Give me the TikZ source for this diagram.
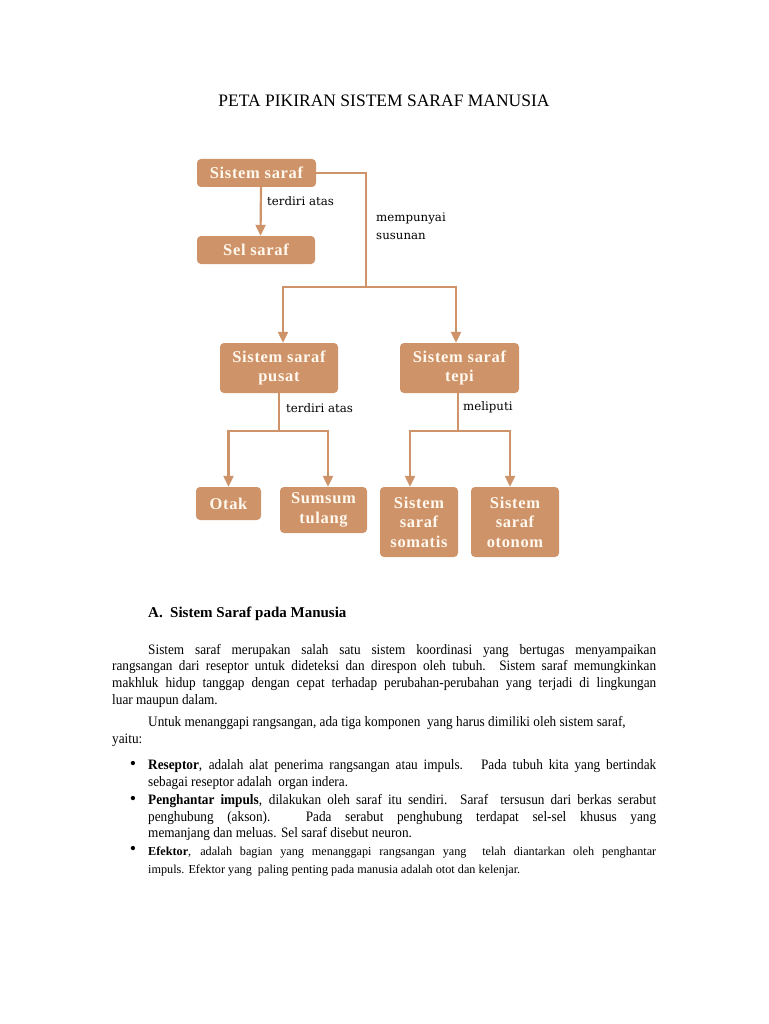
\documentclass[tikz,border=0pt]{standalone}
\usepackage{fontspec}
\setmainfont{Liberation Serif}
\newfontfamily\bodyfont{Liberation Serif}[FakeStretch=0.92]
\newfontfamily\boxfont{Liberation Serif}[LetterSpace=4]
\newfontfamily\lblfont{DejaVu Serif}
\usetikzlibrary{arrows.meta}
\definecolor{tan}{RGB}{206,147,104}
\definecolor{boxtext}{RGB}{255,248,238}
\tikzset{
  box/.style={fill=tan, rounded corners=4pt, align=center, text=boxtext,
    font=\boxfont\bfseries\fontsize{16.5}{19.5}\selectfont, inner sep=0pt},
  link/.style={draw=tan, line width=2.2pt},
  arr/.style={link, -{Triangle[length=11pt,width=10pt]}},
  lbl/.style={font=\lblfont\fontsize{11.8}{18}\selectfont, anchor=west, align=left, inner sep=0pt},
  body/.style={font=\bodyfont\fontsize{14.4}{16}\selectfont, anchor=base west, inner sep=0pt},
  bodysm/.style={font=\fontsize{12.2}{16}\selectfont, anchor=base west, inner sep=0pt},
  bullet/.style={font=\fontsize{18}{18}\selectfont, anchor=center, inner sep=0pt},
}
\begin{document}
\begin{tikzpicture}[x=1pt,y=-1pt]
\useasboundingbox[fill=white] (0,0) rectangle (768,1024);
% title
\node[font=\fontsize{17.5}{20}\selectfont, anchor=base] (title) at (384,107) {PETA PIKIRAN SISTEM SARAF MANUSIA};
% boxes
\node[box, minimum width=119pt, minimum height=28pt] (ss) at (256.5,173) {Sistem saraf};
\node[box, minimum width=118pt, minimum height=28pt] (sel) at (256,250) {Sel saraf};
\node[box, minimum width=118pt, minimum height=50pt] (pusat) at (279,368) {Sistem saraf\\pusat};
\node[box, minimum width=119pt, minimum height=50pt] (tepi) at (459.5,368) {Sistem saraf\\tepi};
\node[box, minimum width=65pt, minimum height=33pt] (otak) at (228.5,503.5) {Otak};
\node[box, minimum width=87pt, minimum height=46pt] (sumsum) at (323.5,510) {Sumsum\\tulang};
\node[box, minimum width=78pt, minimum height=70pt] (somatis) at (419,522) {Sistem\\saraf\\somatis};
\node[box, minimum width=88pt, minimum height=70pt] (otonom) at (515,522) {Sistem\\saraf\\otonom};
% junctions
\coordinate (j1) at (366,287);
\coordinate (j2) at (279,431);
\coordinate (j3) at (458,431);
% connectors
\draw[arr] ([xshift=4.5pt]ss.south) -- ([xshift=4.5pt]sel.north);
\draw[link] (ss.east) -| (j1);
\draw[arr] (j1) -| ([xshift=4pt]pusat.north);
\draw[arr] (j1) -| ([xshift=-3.5pt]tepi.north);
\draw[link] (pusat.south) -- (j2);
\draw[arr] (j2) -| (otak.north);
\draw[arr] (j2) -| ([xshift=4.5pt]sumsum.north);
\draw[link] ([xshift=-1.5pt]tepi.south) -- (j3);
\draw[arr] (j3) -| ([xshift=-9pt]somatis.north);
\draw[arr] (j3) -| ([xshift=-5pt]otonom.north);
% labels
\node[lbl] (l1) at (267,201) {terdiri atas};
\node[lbl] (l2) at (376,226) {mempunyai\\susunan};
\node[lbl] (l3) at (286,408) {terdiri atas};
\node[lbl] (l4) at (463,407) {meliputi};
% heading
\node[anchor=base west, inner sep=0pt, font=\bfseries\fontsize{15}{16}\selectfont] (ha) at (148,617) {A.};
\node[anchor=base west, inner sep=0pt, font=\bfseries\fontsize{15}{16}\selectfont] (hb) at (170,617) {Sistem Saraf pada Manusia};
% paragraph 1
\node[body] (p1) at (148,654) {\makebox[508pt][s]{Sistem saraf merupakan salah satu sistem koordinasi yang bertugas menyampaikan}};
\node[body] (p2) at (112,670) {\makebox[544pt][s]{rangsangan dari reseptor untuk dideteksi dan  direspon oleh tubuh. Sistem saraf memungkinkan}};
\node[body] (p3) at (112,687) {\makebox[544pt][s]{makhluk hidup tanggap dengan cepat terhadap perubahan-perubahan yang terjadi di lingkungan}};
\node[body] (p4) at (112,704) {luar maupun dalam.};
% paragraph 2
\node[body] (q1) at (148,726) {Untuk menanggapi rangsangan, ada tiga komponen \ yang harus dimiliki oleh sistem saraf,};
\node[body] (q2) at (112,743) {yaitu:};
% bullets
\node[bullet] (b1) at (133,765) {•};
\node[body] (r1) at (148,769) {\makebox[508pt][s]{\textbf{Reseptor}, adalah alat penerima rangsangan atau impuls. \ Pada tubuh kita yang bertindak}};
\node[body] (r2) at (148,786) {sebagai reseptor adalah \ organ indera.};
\node[bullet] (b2) at (133,800) {•};
\node[body] (s1) at (148,804) {\makebox[508pt][s]{\textbf{Penghantar impuls}, dilakukan oleh saraf itu sendiri. Saraf \ tersusun dari berkas serabut}};
\node[body] (s2) at (148,821) {\makebox[508pt][s]{penghubung (akson). Pada serabut penghubung terdapat sel-sel khusus yang}};
\node[body] (s3) at (148,837) {memanjang dan meluas. Sel saraf disebut neuron.};
\node[bullet] (b3) at (133,850) {•};
\node[bodysm] (t1) at (148,855) {\makebox[508pt][s]{\textbf{Efektor}, adalah bagian yang menanggapi rangsangan yang \ telah diantarkan oleh penghantar}};
\node[bodysm] (t2) at (148,873) {impuls. Efektor yang \ paling penting pada manusia adalah otot dan kelenjar.};
\end{tikzpicture}
\end{document}
